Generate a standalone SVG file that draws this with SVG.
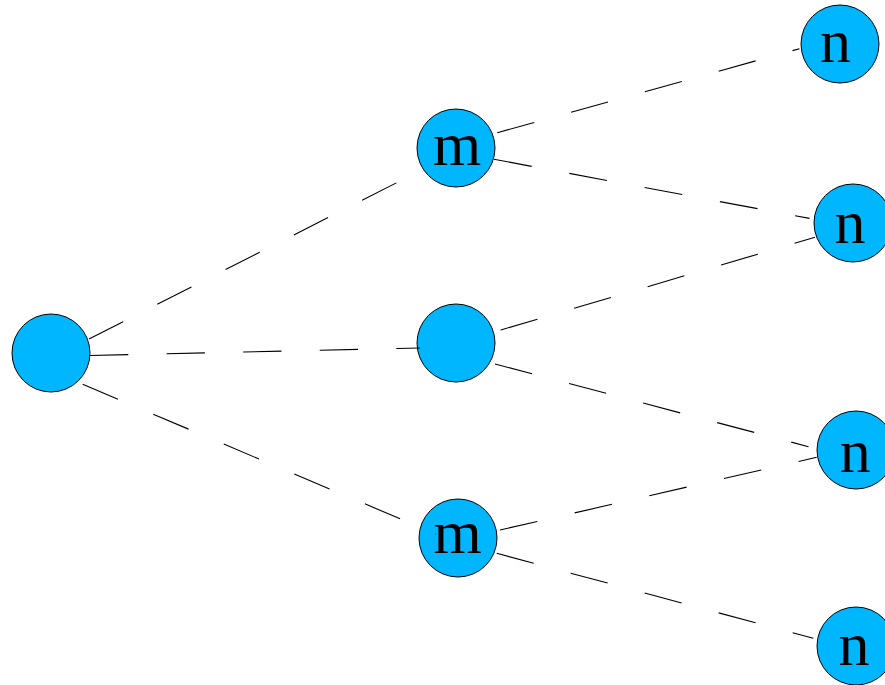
<svg xmlns="http://www.w3.org/2000/svg" width="885" height="685" viewBox="0 0 885 685">
<style>
.node{fill:#00b6ff;stroke:#000;stroke-width:1}
.lbl{font-family:"Liberation Serif","Times New Roman",serif;font-size:62px;fill:#000;text-anchor:middle}
.edge{stroke:#000;stroke-width:1.1;fill:none;stroke-dasharray:38.3 38.3}
</style>
<rect width="885" height="685" fill="#fff"/>
<g id="nodes">
<g id="root"><circle class="node" cx="51" cy="353" r="39"/></g>
<g id="m1"><circle class="node" cx="456" cy="148" r="39"/><text class="lbl" x="457" y="165">m</text></g>
<g id="mid"><circle class="node" cx="456" cy="343" r="39"/></g>
<g id="m2"><circle class="node" cx="458" cy="538" r="39"/><text class="lbl" x="457.5" y="553">m</text></g>
<g id="n1"><circle class="node" cx="840" cy="44" r="39"/><text class="lbl" x="835.5" y="62">n</text></g>
<g id="n2"><circle class="node" cx="853" cy="223" r="39"/><text class="lbl" x="850" y="243">n</text></g>
<g id="n3"><circle class="node" cx="856" cy="450" r="39"/><text class="lbl" x="855.3" y="471.5">n</text></g>
<g id="n4"><circle class="node" cx="856" cy="646" r="39"/><text class="lbl" x="854" y="665">n</text></g>
</g>
<g id="connectors">
<line class="edge" x1="89" y1="339" x2="400" y2="181"/>
<line class="edge" x1="90" y1="355.5" x2="420" y2="348"/>
<line class="edge" x1="82.7" y1="384.3" x2="436" y2="534"/>
<line class="edge" x1="497.3" y1="132.7" x2="799.5" y2="48.7"/>
<line class="edge" x1="494" y1="159.3" x2="809.5" y2="218.4"/>
<line class="edge" x1="500.7" y1="330" x2="815" y2="237.3"/>
<line class="edge" x1="495" y1="364" x2="808.5" y2="446.7"/>
<line class="edge" x1="500" y1="530" x2="816.7" y2="457.3"/>
<line class="edge" x1="496.7" y1="553.3" x2="813.3" y2="638.3"/>
</g>
</svg>
